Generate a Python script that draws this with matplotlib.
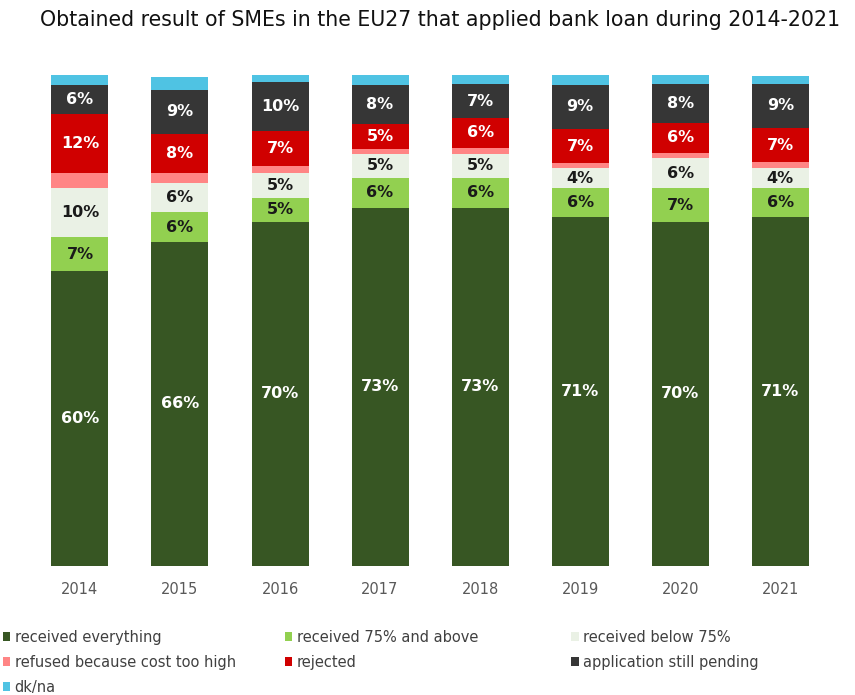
import numpy as np
import matplotlib.pyplot as plt
from matplotlib.patches import Patch

years = ["2014", "2015", "2016", "2017", "2018", "2019", "2020", "2021"]

# share of SMEs (%) by outcome of the bank loan application
everything = [60, 66, 70, 73, 73, 71, 70, 71]
above75 = [7, 6, 5, 6, 6, 6, 7, 6]
below75 = [10, 6, 5, 5, 5, 4, 6, 4]
refused_cost = [3, 2, 1.5, 1, 1.2, 1, 1.2, 1.2]
rejected = [12, 8, 7, 5, 6, 7, 6, 7]
pending = [6, 9, 10, 8, 7, 9, 8, 9]
dkna = [2.4, 2.6, 2, 2.5, 2, 2.4, 2, 1.6]

series = [
    ("received everything", everything, "#375623", "white"),
    ("received 75% and above", above75, "#92d050", "#1a1a1a"),
    ("received below 75%", below75, "#eaf1e5", "#1a1a1a"),
    ("refused because cost too high", refused_cost, "#ff8585", None),
    ("rejected", rejected, "#d00000", "white"),
    ("application still pending", pending, "#363636", "white"),
    ("dk/na", dkna, "#4fc3e3", None),
]

fig = plt.figure(figsize=(8.55, 6.95), dpi=100)
ax = fig.add_axes([0.035, 0.186, 0.936, 0.706])

x = np.arange(len(years))
bottom = np.zeros(len(years))
handles = {}
for name, vals, col, tcol in series:
    vals = np.array(vals, dtype=float)
    bars = ax.bar(x, vals, 0.57, bottom=bottom, color=col, label=name)
    handles[name] = bars
    if tcol is not None:
        for xi, b, v in zip(x, bottom, vals):
            ax.text(xi, b + v / 2, f"{v:.0f}%", ha="center", va="center",
                    color=tcol, fontsize=11.5, fontweight="bold")
    bottom += vals

ax.set_xlim(-0.5, len(years) - 0.5)
ax.set_ylim(0, 100)
ax.set_xticks(x)
ax.set_xticklabels(years, color="#595959", fontsize=10.5)
ax.tick_params(axis="x", length=0, pad=12)
ax.set_yticks([])
for s in ax.spines.values():
    s.set_visible(False)

fig.text(0.515, 0.971, "Obtained result of SMEs in the EU27 that applied bank loan during 2014-2021",
         ha="center", va="center", fontsize=14.8, color="#111111")

# legend laid out in three columns
cols = [
    (0.0, ["received everything", "refused because cost too high", "dk/na"]),
    (0.33, ["received 75% and above", "rejected"]),
    (0.665, ["received below 75%", "application still pending"]),
]
for xpos, names in cols:
    hs = [Patch(facecolor=handles[n].patches[0].get_facecolor()) for n in names]
    fig.legend(hs, names, loc="upper left", bbox_to_anchor=(xpos, 0.098),
               frameon=False, fontsize=10.5, labelcolor="#404040",
               handlelength=0.5, handleheight=0.6, handletextpad=0.3,
               labelspacing=0.68, borderaxespad=0, borderpad=0.2)

fig.savefig("out.png", dpi=100)
